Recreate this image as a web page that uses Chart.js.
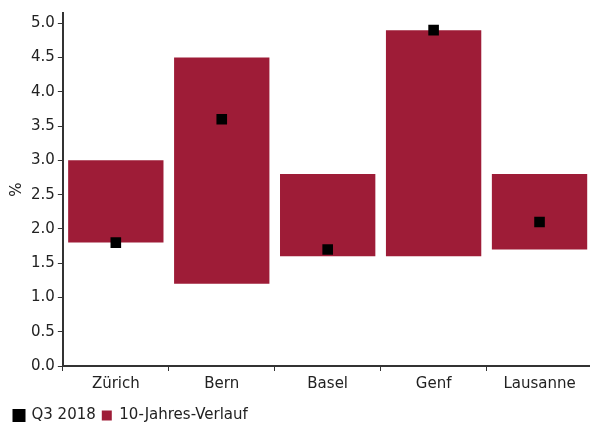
<!DOCTYPE html>
<html>
<head>
<meta charset="utf-8">
<script src="https://cdn.jsdelivr.net/npm/chart.js@4"></script>
<style>
  html, body { margin: 0; padding: 0; background: #fff; overflow: hidden; }
  #wrap { width: 590px; height: 426px; overflow: hidden; }
</style>
</head>
<body>
<div id="wrap"><canvas id="myChart" width="600" height="433"></canvas></div>
<script>
// cities and values
const cities = ['Zürich', 'Bern', 'Basel', 'Genf', 'Lausanne'];
const q3Values = [1.8, 3.6, 1.7, 4.9, 2.1];
const rangeLow = [1.8, 1.2, 1.6, 1.6, 1.7];
const rangeHigh = [3.0, 4.5, 2.8, 4.9, 2.8];
const yTicks = [0, 0.5, 1, 1.5, 2, 2.5, 3, 3.5, 4, 4.5, 5];

const barRed = '#9e1c37';
const textCol = '#222222';
const axisCol = '#333333';
const fontFam = "'DejaVu Sans', sans-serif";

const ctx = document.getElementById('myChart').getContext('2d');

const ranges = rangeLow.map((lo, i) => [lo, rangeHigh[i]]);

const chart = new Chart(ctx, {
    type: 'bar',
    data: {
        labels: cities,
        datasets: [
            {
                type: 'line',
                label: 'Q3 2018',
                data: q3Values,
                showLine: false,
                pointStyle: 'rect',
                pointRadius: 7.5,
                pointHoverRadius: 7.5,
                pointBorderWidth: 0,
                backgroundColor: '#000000',
                borderColor: '#000000',
                order: 0
            },
            {
                label: '10-Jahres-Verlauf',
                data: ranges,
                backgroundColor: barRed,
                borderWidth: 0,
                barPercentage: 0.9,
                categoryPercentage: 1.0,
                order: 1
            }
        ]
    },
    options: {
        responsive: false,
        animation: false,
        layout: { padding: { left: 8, right: 3, top: 13, bottom: 0 } },
        plugins: {
            tooltip: { enabled: false },
            legend: {
                position: 'bottom',
                align: 'start',
                labels: {
                    boxWidth: 10,
                    boxHeight: 10,
                    padding: 6,
                    color: textCol,
                    font: { family: fontFam, size: 15 }
                }
            }
        },
        scales: {
            x: {
                offset: true,
                grid: {
                    offset: true,
                    drawOnChartArea: false,
                    tickLength: 5,
                    color: axisCol
                },
                border: { color: axisCol, width: 2 },
                ticks: {
                    color: textCol,
                    padding: 4,
                    font: { family: fontFam, size: 15 }
                },
                afterFit: (axis) => { axis.height += 5; }
            },
            y: {
                min: 0,
                max: 5.15,
                afterBuildTicks: (axis) => {
                    axis.ticks = yTicks.map(v => ({ value: v }));
                },
                grid: {
                    drawOnChartArea: false,
                    tickLength: 5,
                    color: axisCol
                },
                border: { color: axisCol, width: 2 },
                ticks: {
                    color: textCol,
                    padding: 3,
                    font: { family: fontFam, size: 15 },
                    callback: (v) => Number(v).toFixed(1)
                },
                title: {
                    display: true,
                    text: '%',
                    color: textCol,
                    padding: { top: 0, bottom: 2 },
                    font: { family: fontFam, size: 15 }
                }
            }
        }
    }
});
</script>
</body>
</html>
